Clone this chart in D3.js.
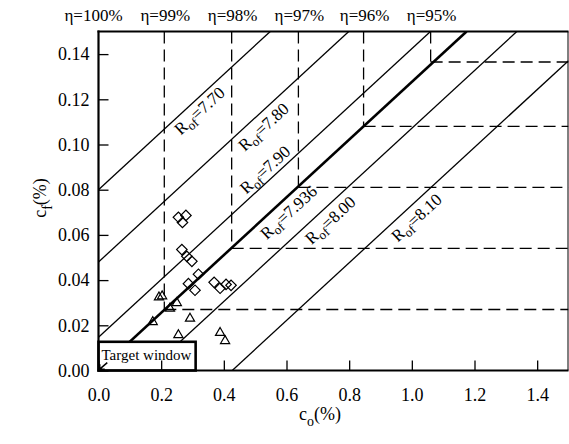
<!DOCTYPE html>
<html>
<head>
<meta charset="utf-8">
<script src="https://cdn.jsdelivr.net/npm/d3@7"></script>
</head>
<body style="margin:0">
<svg id="chart" width="569" height="444"></svg>
<script>
// ---- data ----
const xTicks = [0, 0.2, 0.4, 0.6, 0.8, 1.0, 1.2, 1.4];
const yTicks = [0, 0.02, 0.04, 0.06, 0.08, 0.10, 0.12, 0.14];

const etaLabels = ["η=100%", "η=99%", "η=98%", "η=97%", "η=96%", "η=95%"];
const etaCo = [0, 0.21, 0.425, 0.638, 0.846, 1.06];      // c_o where each η line sits
const etaCf = [0, 0.027, 0.054, 0.081, 0.108, 0.1365];   // c_f of each η corner

const rofLabels = ["7.70", "7.80", "7.90", "7.936", "8.00", "8.10"];
const rofIntercept = [0.080, 0.048, 0.0147, 0.0, -0.0205, -0.0545];
const rofSlope = 0.1277;

const diamondCo = [0.255, 0.279, 0.268, 0.266, 0.282, 0.298, 0.319, 0.287, 0.308, 0.369, 0.388, 0.407, 0.423];
const diamondCf = [0.0678, 0.0686, 0.0655, 0.0535, 0.0505, 0.0483, 0.0426, 0.0384, 0.0355, 0.0390, 0.0364, 0.0381, 0.0377];

const triangleCo = [0.193, 0.203, 0.250, 0.228, 0.173, 0.292, 0.255, 0.388, 0.404];
const triangleCf = [0.0324, 0.0329, 0.0299, 0.0274, 0.0215, 0.0230, 0.0157, 0.0167, 0.0131];

const targetCo = 0.31, targetCf = 0.0127;

// ---- layout ----
const FONT = "Liberation Serif";
const svg = d3.select("#chart");
const X0 = 98.5, X1 = 568.5, Y0 = 370.5, Y1 = 31.5;
const x = d3.scaleLinear().domain([0, 1.5]).range([X0, X1]);
const y = d3.scaleLinear().domain([0, 0.15]).range([Y0, Y1]);
function serif(sel) { return sel.attr("font-family", FONT).style("font-family", FONT); }

svg.append("defs").append("clipPath").attr("id", "plotclip")
  .append("rect").attr("x", X0).attr("y", Y1).attr("width", X1 - X0).attr("height", Y0 - Y1);

const plot = svg.append("g").attr("clip-path", "url(#plotclip)");

// η dashed L-shapes
etaCo.forEach((c, i) => {
  if (i === 0) return;
  plot.append("line")
    .attr("x1", x(c)).attr("x2", x(c))
    .attr("y1", y(0.15)).attr("y2", y(etaCf[i]))
    .attr("stroke", "#000").attr("stroke-width", 1.3).attr("stroke-dasharray", "12,6");
  plot.append("line")
    .attr("x1", x(c)).attr("x2", x(1.5))
    .attr("y1", y(etaCf[i])).attr("y2", y(etaCf[i]))
    .attr("stroke", "#000").attr("stroke-width", 1.3).attr("stroke-dasharray", "12,6");
});

// R_of lines
rofIntercept.forEach((b, i) => {
  const c0 = Math.max(0, -b / rofSlope);
  const c1 = Math.min(1.5, (0.15 - b) / rofSlope);
  plot.append("line")
    .attr("x1", x(c0)).attr("y1", y(b + rofSlope * c0))
    .attr("x2", x(c1)).attr("y2", y(b + rofSlope * c1))
    .attr("stroke", "#000")
    .attr("stroke-width", rofLabels[i] === "7.936" ? 2.6 : 1.3);
});

// R_of labels
const labelAt = [0.30, 0.50, 0.554, 0.58, 0.713, 0.988];
const labelOff = [11, 13, -10, 13, 13, 13];
const ang = Math.atan2(y(rofSlope) - y(0), x(1) - x(0));
const nx = -Math.sin(ang), ny = Math.cos(ang);
rofLabels.forEach((lab, i) => {
  const c = labelAt[i];
  const fx = x(c), fy = y(rofIntercept[i] + rofSlope * c);
  const cx = fx + labelOff[i] * nx, cy = fy + labelOff[i] * ny;
  const t = serif(svg.append("text"))
    .attr("transform", `translate(${cx},${cy}) rotate(${ang * 180 / Math.PI})`)
    .attr("text-anchor", "middle").attr("dy", "0.3em")
    .attr("font-size", 17);
  t.append("tspan").text("R");
  t.append("tspan").attr("dy", 4).attr("font-size", 13).text("of");
  t.append("tspan").attr("dy", -4).text("=" + lab);
});

// markers
plot.selectAll(".dia").data(diamondCo).join("path")
  .attr("d", d3.symbol().type(d3.symbolSquare).size(55))
  .attr("transform", (d, i) => `translate(${x(d)},${y(diamondCf[i])}) rotate(45)`)
  .attr("fill", "none").attr("stroke", "#000").attr("stroke-width", 1.2);

plot.selectAll(".tri").data(triangleCo).join("path")
  .attr("d", d3.symbol().type(d3.symbolTriangle2).size(60))
  .attr("transform", (d, i) => `translate(${x(d)},${y(triangleCf[i])})`)
  .attr("fill", "none").attr("stroke", "#000").attr("stroke-width", 1.2);

// Target window
svg.append("rect")
  .attr("x", x(0)).attr("y", y(targetCf))
  .attr("width", x(targetCo) - x(0)).attr("height", y(0) - y(targetCf))
  .attr("fill", "#fff").attr("stroke", "#000").attr("stroke-width", 2.6);
serif(svg.append("text")).attr("x", x(0) + 3).attr("y", y(targetCf) + 18)
  .attr("font-size", 15).text("Target window");
svg.append("path")
  .attr("d", `M${x(0.028)},${y(0.0035)} L${x(0.004)},${y(0.0006)} M${x(0.004)},${y(0.0006)} l5,0 M${x(0.004)},${y(0.0006)} l0,-5`)
  .attr("stroke", "#000").attr("stroke-width", 1.5).attr("fill", "none");

// axes
const yAxis = d3.axisLeft(y).tickValues(yTicks).tickSize(-10).tickSizeOuter(0)
  .tickPadding(9).tickFormat(d3.format(".2f"));
const gy = svg.append("g").attr("transform", `translate(${X0},0)`).call(yAxis);
const xAxis = d3.axisBottom(x).tickValues(xTicks).tickSize(-10).tickSizeOuter(0)
  .tickPadding(18).tickFormat(d3.format(".1f"));
const gx = svg.append("g").attr("transform", `translate(0,${Y0})`).call(xAxis);
[gx, gy].forEach(g => {
  serif(g);
  serif(g.selectAll("text")).attr("font-size", 18).attr("fill", "#000");
  g.selectAll(".tick line").attr("stroke", "#000").attr("stroke-width", 1.3);
  g.select(".domain").attr("stroke", "none");
});

// frame
svg.append("line").attr("x1", X0).attr("x2", X0).attr("y1", Y1 - 1).attr("y2", Y0 + 1)
  .attr("stroke", "#000").attr("stroke-width", 2.2);
svg.append("line").attr("x1", X0 - 1).attr("x2", X1).attr("y1", Y0).attr("y2", Y0)
  .attr("stroke", "#000").attr("stroke-width", 2.2);
svg.append("line").attr("x1", X0 - 1).attr("x2", X1).attr("y1", Y1).attr("y2", Y1)
  .attr("stroke", "#000").attr("stroke-width", 2.2);
svg.append("line").attr("x1", X1 - 0.5).attr("x2", X1 - 0.5).attr("y1", Y1).attr("y2", Y0)
  .attr("stroke", "#000").attr("stroke-width", 1);

// η labels
serif(svg.selectAll(".eta").data(etaLabels).join("text"))
  .attr("x", (d, i) => x(etaCo[i]) + (i === 0 ? -5 : 1))
  .attr("y", 21)
  .attr("text-anchor", "middle")
  .attr("font-size", 17)
  .text(d => d);

// axis titles
const xt = serif(svg.append("text")).attr("x", 320).attr("y", 420)
  .attr("text-anchor", "middle").attr("font-size", 18);
xt.append("tspan").text("c");
xt.append("tspan").attr("dy", 6).attr("font-size", 14).text("o");
xt.append("tspan").attr("dy", -6).text("(%)");

const yt = serif(svg.append("text")).attr("transform", "translate(46,198) rotate(-90)")
  .attr("text-anchor", "middle").attr("font-size", 18);
yt.append("tspan").text("c");
yt.append("tspan").attr("dy", 6).attr("font-size", 14).text("f");
yt.append("tspan").attr("dy", -6).text("(%)");
</script>
</body>
</html>
